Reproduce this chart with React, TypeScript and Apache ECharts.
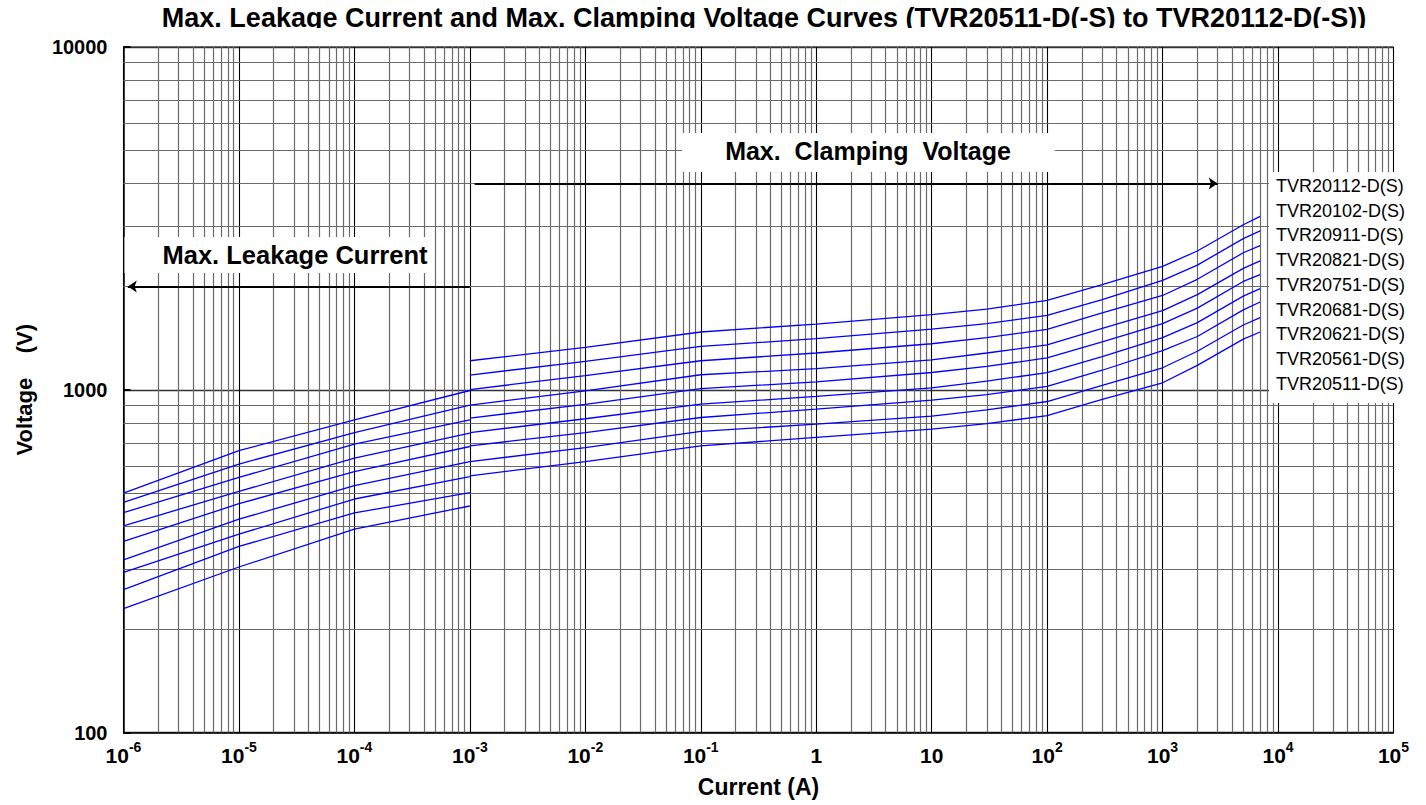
import React, { useEffect, useRef } from 'react';
import * as echarts from 'echarts';

// ---- data ----
const MODELS = [
  'TVR20112-D(S)',
  'TVR20102-D(S)',
  'TVR20911-D(S)',
  'TVR20821-D(S)',
  'TVR20751-D(S)',
  'TVR20681-D(S)',
  'TVR20621-D(S)',
  'TVR20561-D(S)',
  'TVR20511-D(S)',
];

// leakage region (A)
const CURRENT_LEAK = [1e-6, 1e-5, 1e-4, 1e-3];
const LEAK_20112 = [499, 664, 817, 995];
const LEAK_20102 = [469, 607, 750, 902];
const LEAK_20911 = [438, 555, 694, 817];
const LEAK_20821 = [401, 505, 632, 747];
const LEAK_20751 = [361, 465, 577, 683];
const LEAK_20681 = [319, 419, 525, 617];
const LEAK_20621 = [293, 379, 480, 558];
const LEAK_20561 = [261, 349, 437, 501];
const LEAK_20511 = [230, 304, 392, 458];

// clamping region (A)
const CURRENT_CLAMP = [1e-3, 1e-2, 1e-1, 1, 10, 30, 100, 300, 1000, 2000, 5000, 7000];
const CLAMP_20112 = [1215, 1330, 1474, 1555, 1656, 1720, 1823, 2025, 2290, 2540, 3030, 3206];
const CLAMP_20102 = [1104, 1210, 1338, 1409, 1502, 1560, 1648, 1831, 2085, 2310, 2760, 2907];
const CLAMP_20911 = [1001, 1100, 1215, 1280, 1362, 1420, 1500, 1675, 1884, 2100, 2510, 2633];
const CLAMP_20821 = [902, 992, 1106, 1152, 1223, 1280, 1352, 1510, 1701, 1895, 2260, 2376];
const CLAMP_20751 = [827, 907, 1007, 1055, 1123, 1170, 1238, 1380, 1559, 1730, 2070, 2167];
const CLAMP_20681 = [750, 823, 908, 956, 1013, 1060, 1122, 1250, 1419, 1570, 1875, 1972];
const CLAMP_20621 = [686, 750, 830, 878, 933, 968, 1023, 1140, 1300, 1430, 1710, 1803];
const CLAMP_20561 = [617, 678, 756, 794, 838, 874, 924, 1030, 1159, 1295, 1545, 1623];
const CLAMP_20511 = [561, 617, 686, 726, 768, 796, 841, 938, 1048, 1178, 1405, 1474];

const LEAK = [LEAK_20112, LEAK_20102, LEAK_20911, LEAK_20821, LEAK_20751, LEAK_20681, LEAK_20621, LEAK_20561, LEAK_20511];
const CLAMP = [CLAMP_20112, CLAMP_20102, CLAMP_20911, CLAMP_20821, CLAMP_20751, CLAMP_20681, CLAMP_20621, CLAMP_20561, CLAMP_20511];

// arrows
const LEAK_ARROW = { from: [1e-3, 2000], to: [1.09e-6, 2000] };
const CLAMP_ARROW = { from: [1.1e-3, 4000], to: [3000, 4000] };

// axis ranges: decade exponents
const X_EXP_MIN = -6;
const X_EXP_MAX = 5;
const Y_EXP_MIN = 2;
const Y_EXP_MAX = 4;

const TITLE = 'Max. Leakage Current and Max. Clamping Voltage Curves (TVR20511-D(-S) to TVR20112-D(-S))';
const FONT = '"Liberation Sans", Arial, sans-serif';

// minor grid values (2..9 x each decade)
const minorX: number[] = [];
for (let e = X_EXP_MIN; e < X_EXP_MAX; e++) for (let k = 2; k <= 9; k++) minorX.push(k * Math.pow(10, e));
const minorY: number[] = [];
for (let e = Y_EXP_MIN; e < Y_EXP_MAX; e++) for (let k = 2; k <= 9; k++) minorY.push(k * Math.pow(10, e));

function xLabel(v: number) {
  const e = Math.round(v);
  if (e === 0) return '{b|1}';
  if (e === 1) return '{b|10}';
  return `{b|10}{s|${e}}`;
}
function yLabel(v: number) {
  return String(Math.round(Math.pow(10, Math.round(v))));
}

export default function App() {
  const ref = useRef<HTMLDivElement>(null);
  useEffect(() => {
    const chart = echarts.init(ref.current!, null, { renderer: 'svg' });

    const curveSeries: any[] = [];
    MODELS.forEach((m, i) => {
      curveSeries.push({
        name: m + ' leakage',
        type: 'line',
        xAxisIndex: 0,
        yAxisIndex: 0,
        data: CURRENT_LEAK.map((c, j) => [c, LEAK[i][j]]),
        symbol: 'none',
        lineStyle: { color: '#0000ff', width: 1.3 },
        z: 5,
        silent: true,
      });
      curveSeries.push({
        name: m,
        type: 'line',
        xAxisIndex: 0,
        yAxisIndex: 0,
        data: CURRENT_CLAMP.map((c, j) => [c, CLAMP[i][j]]),
        symbol: 'none',
        lineStyle: { color: '#0000ff', width: 1.3 },
        z: 5,
        silent: true,
      });
    });

    const gridSeries = {
      name: 'grid',
      type: 'line',
      xAxisIndex: 0,
      yAxisIndex: 0,
      data: [],
      z: 1,
      silent: true,
      markLine: {
        silent: true,
        precision: 12,
        symbol: 'none',
        label: { show: false },
        lineStyle: { color: '#6a6a6a', width: 1.2, type: 'solid' },
        data: [
          ...minorX.map((v) => ({ xAxis: v })),
          ...minorY.map((v) => ({ yAxis: v })),
        ],
        animation: false,
      },
    };

    const arrowSeries = {
      name: 'arrows',
      type: 'line',
      xAxisIndex: 0,
      yAxisIndex: 0,
      data: [],
      z: 6,
      silent: true,
      markLine: {
        silent: true,
        precision: 12,
        symbol: ['none', 'arrow'],
        symbolSize: 9,
        label: { show: false },
        lineStyle: { color: '#000', width: 2, type: 'solid' },
        data: [
          [{ coord: LEAK_ARROW.from }, { coord: LEAK_ARROW.to }],
          [{ coord: CLAMP_ARROW.from }, { coord: CLAMP_ARROW.to }],
        ],
        animation: false,
      },
    };

    const option: any = {
      animation: false,
      backgroundColor: '#fff',
      textStyle: { fontFamily: FONT },
      grid: {
        left: 123.5,
        top: 47,
        right: 32.5,
        bottom: 72.5,
        show: true,
        borderColor: '#000',
        borderWidth: 1,
        backgroundColor: 'transparent',
      },
      xAxis: [
        {
          type: 'log',
          logBase: 10,
          min: Math.pow(10, X_EXP_MIN),
          max: Math.pow(10, X_EXP_MAX),
          show: false,
        },
        {
          type: 'value',
          min: X_EXP_MIN,
          max: X_EXP_MAX,
          interval: 1,
          position: 'bottom',
          name: 'Current (A)',
          nameLocation: 'middle',
          nameGap: 43,
          nameTextStyle: { fontSize: 23, fontWeight: 'bold', color: '#000', fontFamily: FONT },
          axisLine: { show: true, onZero: false, lineStyle: { color: '#000', width: 1.5 } },
          axisTick: { show: false },
          splitLine: { show: true, lineStyle: { color: '#000', width: 1.1 } },
          axisLabel: {
            margin: 7,
            formatter: xLabel,
            rich: {
              b: { fontSize: 21, fontWeight: 'bold', color: '#000', fontFamily: FONT, lineHeight: 26, verticalAlign: 'bottom' },
              s: { fontSize: 14, fontWeight: 'bold', color: '#000', fontFamily: FONT, lineHeight: 14, verticalAlign: 'top' },
            },
          },
        },
      ],
      yAxis: [
        {
          type: 'log',
          logBase: 10,
          min: Math.pow(10, Y_EXP_MIN),
          max: Math.pow(10, Y_EXP_MAX),
          show: false,
        },
        {
          type: 'value',
          min: Y_EXP_MIN,
          max: Y_EXP_MAX,
          interval: 1,
          position: 'left',
          name: 'Voltage    (V)',
          nameLocation: 'middle',
          nameGap: 88,
          nameRotate: 90,
          nameTextStyle: { fontSize: 22, fontWeight: 'bold', color: '#000', fontFamily: FONT },
          axisLine: { show: true, onZero: false, lineStyle: { color: '#000', width: 1.5 } },
          axisTick: { show: true, inside: true, length: 7, lineStyle: { color: '#000', width: 2 } },
          splitLine: { show: true, lineStyle: { color: '#333', width: 1.4 } },
          axisLabel: {
            margin: 16,
            fontSize: 20,
            fontWeight: 'bold',
            color: '#000',
            fontFamily: FONT,
            formatter: yLabel,
          },
        },
      ],
      series: [gridSeries, ...curveSeries, arrowSeries],
      graphic: [
        {
          type: 'text',
          z: 50,
          style: {
            x: 764,
            y: 17.5,
            text: TITLE,
            fill: '#000',
            font: `bold 27px ${FONT}`,
            textAlign: 'center',
            textVerticalAlign: 'middle',
          },
        },
        {
          type: 'rect',
          z: 60,
          shape: { x: 140, y: 28, width: 1280, height: 18 },
          style: { fill: '#fff' },
        },
        {
          type: 'rect',
          z: 60,
          shape: { x: 682, y: 133, width: 373, height: 39 },
          style: { fill: '#fff' },
        },
        {
          type: 'text',
          z: 61,
          style: {
            x: 868,
            y: 151,
            text: 'Max.  Clamping  Voltage',
            fill: '#000',
            font: `bold 25px ${FONT}`,
            textAlign: 'center',
            textVerticalAlign: 'middle',
          },
        },
        {
          type: 'rect',
          z: 60,
          shape: { x: 124.5, y: 237, width: 308, height: 36 },
          style: { fill: '#fff' },
        },
        {
          type: 'text',
          z: 61,
          style: {
            x: 295,
            y: 255,
            text: 'Max. Leakage Current',
            fill: '#000',
            font: `bold 25.5px ${FONT}`,
            textAlign: 'center',
            textVerticalAlign: 'middle',
          },
        },
        {
          type: 'rect',
          z: 60,
          shape: { x: 1269, y: 172, width: 157, height: 231 },
          style: { fill: '#fff' },
        },
        ...MODELS.map((m, i) => ({
          type: 'text',
          z: 61,
          style: {
            x: 1276,
            y: 186 + i * 24.7,
            text: m,
            fill: '#000',
            font: `18px ${FONT}`,
            textAlign: 'left',
            textVerticalAlign: 'middle',
          },
        })),
      ],
    };

    chart.setOption(option);
    return () => chart.dispose();
  }, []);

  return (
    <div
      ref={ref}
      style={{ position: 'fixed', left: 0, top: 0, width: 1426, height: 805, background: '#fff' }}
    />
  );
}
